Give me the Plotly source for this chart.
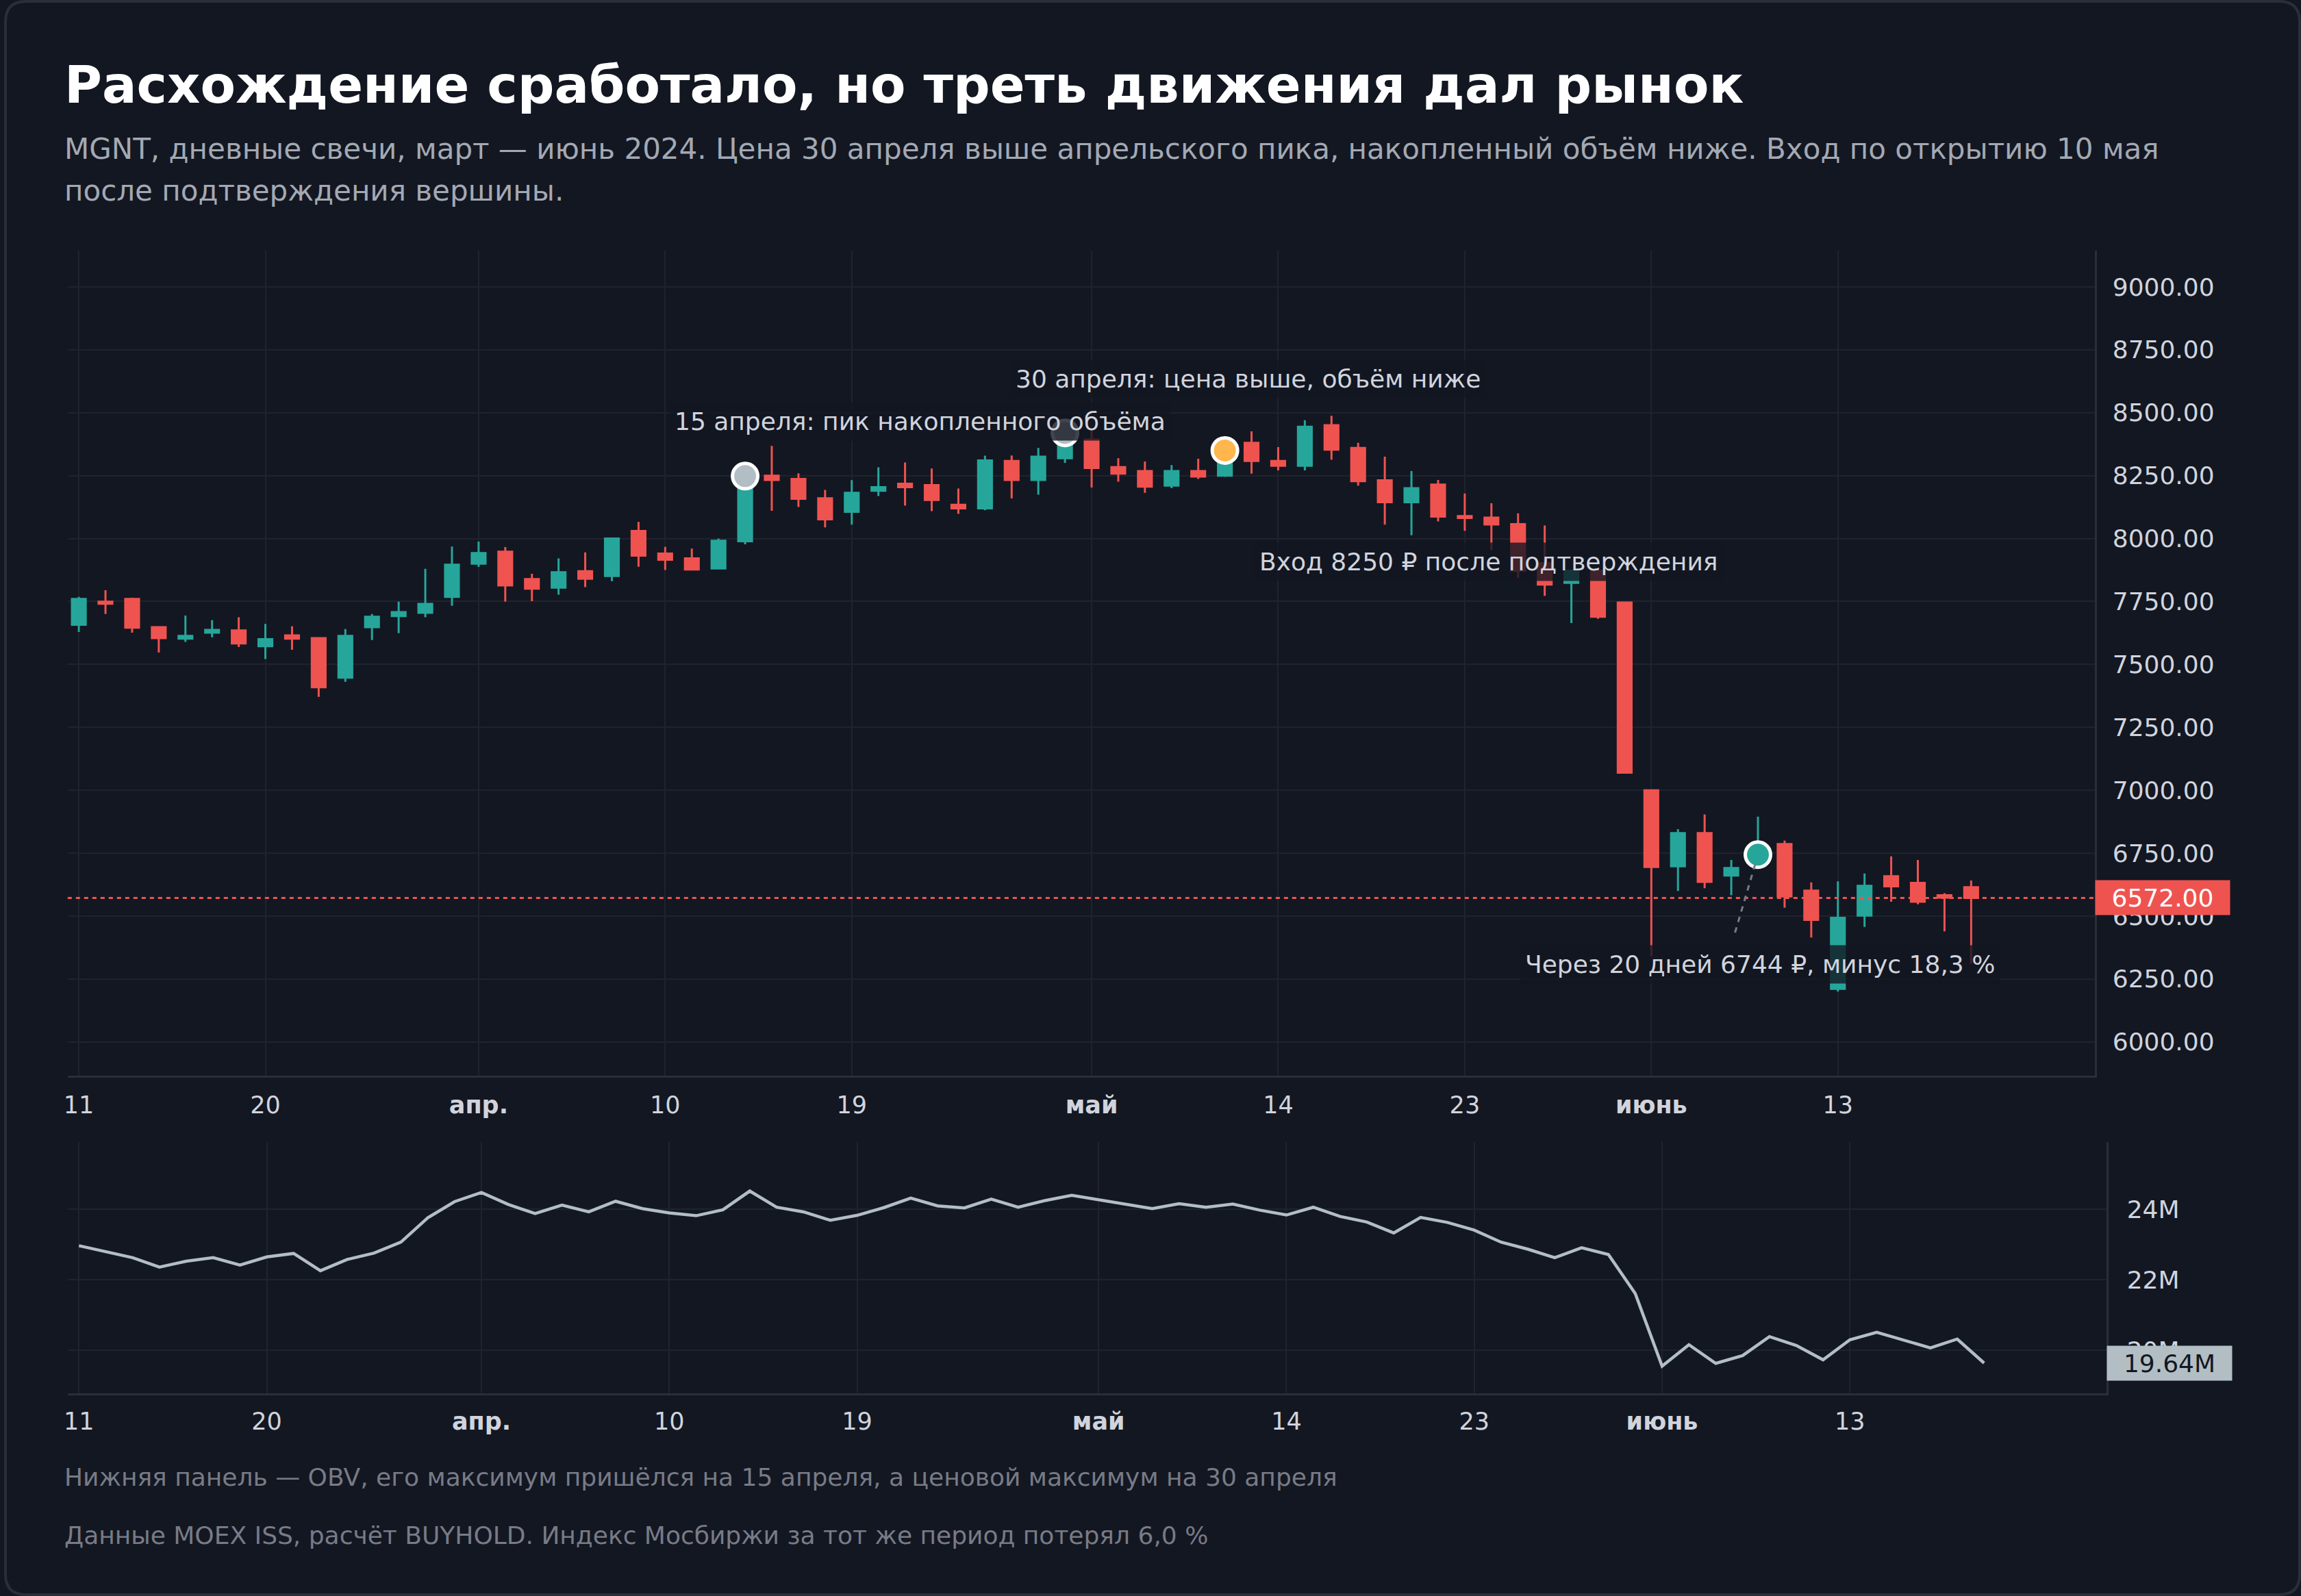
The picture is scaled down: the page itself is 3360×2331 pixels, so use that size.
import plotly.graph_objects as go

W, H = 3360, 2331

# ---- data ----
dates = [
    "2024-03-11", "2024-03-12", "2024-03-13", "2024-03-14", "2024-03-15",
    "2024-03-18", "2024-03-19", "2024-03-20", "2024-03-21", "2024-03-22",
    "2024-03-25", "2024-03-26", "2024-03-27", "2024-03-28", "2024-03-29",
    "2024-04-01", "2024-04-02", "2024-04-03", "2024-04-04", "2024-04-05",
    "2024-04-08", "2024-04-09", "2024-04-10", "2024-04-11", "2024-04-12",
    "2024-04-15", "2024-04-16", "2024-04-17", "2024-04-18", "2024-04-19",
    "2024-04-22", "2024-04-23", "2024-04-24", "2024-04-25", "2024-04-26",
    "2024-04-27", "2024-04-29", "2024-04-30", "2024-05-02", "2024-05-03",
    "2024-05-06", "2024-05-07", "2024-05-08", "2024-05-10", "2024-05-13",
    "2024-05-14", "2024-05-15", "2024-05-16", "2024-05-17", "2024-05-20",
    "2024-05-21", "2024-05-22", "2024-05-23", "2024-05-24", "2024-05-27",
    "2024-05-28", "2024-05-29", "2024-05-30", "2024-05-31", "2024-06-03",
    "2024-06-04", "2024-06-05", "2024-06-06", "2024-06-07", "2024-06-10",
    "2024-06-11", "2024-06-13", "2024-06-14", "2024-06-17", "2024-06-18",
    "2024-06-19", "2024-06-20",
]

open_ = [7657, 7749, 7760, 7648, 7602, 7626, 7635, 7572, 7615, 7604,
         7447, 7648, 7692, 7705, 7768, 7900, 7948, 7839, 7805, 7870,
         7851, 8030, 7940, 7921, 7881, 7989, 8250, 8237, 8160, 8106,
         8190, 8218, 8212, 8134, 8120, 8308, 8233, 8319, 8393, 8284,
         8268, 8210, 8268, 8250, 8380, 8308, 8289, 8450, 8360, 8231,
         8144, 8214, 8089, 8083, 8057, 7902, 7824, 7872, 7746, 7000,
         6698, 6830, 6661, 6700, 6786, 6601, 6211, 6502, 6658, 6632,
         6583, 6615]
high = [7768, 7795, 7765, 7650, 7694, 7676, 7687, 7661, 7651, 7608,
        7640, 7700, 7749, 7880, 7968, 7988, 7966, 7860, 7921, 7945,
        8002, 8066, 7967, 7960, 8000, 8255, 8368, 8259, 8193, 8232,
        8283, 8302, 8278, 8199, 8329, 8330, 8360, 8425, 8436, 8319,
        8306, 8292, 8317, 8360, 8426, 8363, 8470, 8488, 8380, 8325,
        8268, 8233, 8179, 8140, 8100, 8052, 7875, 7875, 7748, 7002,
        6845, 6904, 6723, 6895, 6800, 6634, 6638, 6669, 6737, 6723,
        6591, 6641]
low = [7629, 7700, 7626, 7547, 7589, 7608, 7569, 7521, 7558, 7371,
       7431, 7597, 7624, 7687, 7733, 7887, 7749, 7751, 7777, 7807,
       7831, 7888, 7875, 7874, 7879, 7977, 8110, 8125, 8044, 8055,
       8169, 8131, 8109, 8098, 8112, 8159, 8174, 8301, 8203, 8226,
       8182, 8200, 8237, 8245, 8258, 8271, 8271, 8313, 8210, 8055,
       8013, 8068, 8031, 7954, 7843, 7772, 7664, 7681, 7068, 6340,
       6600, 6611, 6583, 6690, 6533, 6415, 6200, 6457, 6557, 6547,
       6439, 6311]
close = [7760, 7741, 7646, 7604, 7613, 7637, 7583, 7600, 7602, 7409,
         7613, 7689, 7708, 7740, 7896, 7942, 7814, 7801, 7866, 7840,
         8000, 7932, 7916, 7877, 7991, 8248, 8233, 8158, 8076, 8182,
         8204, 8204, 8153, 8120, 8310, 8233, 8325, 8420, 8280, 8258,
         8206, 8268, 8246, 8350, 8308, 8289, 8444, 8353, 8228, 8144,
         8200, 8087, 8082, 8056, 7872, 7817, 7872, 7689, 7070, 6695,
         6830, 6636, 6691, 6744, 6578, 6485, 6493, 6620, 6618, 6557,
         6573, 6572]

obv_m = [22.97, 22.80, 22.63, 22.36, 22.53, 22.63, 22.42, 22.65, 22.75, 22.26,
         22.58, 22.76, 23.07, 23.76, 24.22, 24.48, 24.14, 23.88, 24.12, 23.93,
         24.23, 24.02, 23.90, 23.82, 23.99, 24.52, 24.06, 23.93, 23.69, 23.83,
         24.05, 24.32, 24.10, 24.04, 24.29, 24.06, 24.25, 24.40, 24.28, 24.14,
         24.02, 24.16, 24.06, 24.15, 23.98, 23.84, 24.06, 23.80, 23.64, 23.33,
         23.77, 23.63, 23.41, 23.07, 22.87, 22.63, 22.91, 22.72, 21.61, 19.55,
         20.16, 19.63, 19.85, 20.39, 20.14, 19.73, 20.30, 20.51, 20.30, 20.07,
         20.32, 19.64]
obv = [v * 1e6 for v in obv_m]

tick_dates = ["2024-03-11", "2024-03-20", "2024-04-01", "2024-04-10", "2024-04-19",
              "2024-05-02", "2024-05-14", "2024-05-23", "2024-06-03", "2024-06-13"]
tick_text = ["11", "20", "<b>апр.</b>", "10", "19", "<b>май</b>", "14", "23",
             "<b>июнь</b>", "13"]

price_ticks = list(range(6000, 9001, 250))
obv_ticks = [20e6, 22e6, 24e6]
obv_tick_text = ["20M", "22M", "24M"]

marker_dates = ["2024-04-15", "2024-04-30", "2024-05-10", "2024-06-07"]
marker_prices = [8248, 8420, 8350, 6744]
marker_colors = ["#b2bec3", "#b2bec3", "#ffb74d", "#26a69a"]
marker_labels = [
    "15 апреля: пик накопленного объёма",
    "30 апреля: цена выше, объём ниже",
    "Вход 8250 ₽ после подтверждения",
    "Через 20 дней 6744 ₽, минус 18,3 %",
]

title = "Расхождение сработало, но треть движения дал рынок"
subtitle = [
    "MGNT, дневные свечи, март — июнь 2024. Цена 30 апреля выше апрельского пика, "
    "накопленный объём ниже. Вход по открытию 10 мая",
    "после подтверждения вершины.",
]
footer = [
    "Нижняя панель — OBV, его максимум пришёлся на 15 апреля, а ценовой максимум на 30 апреля",
    "Данные MOEX ISS, расчёт BUYHOLD. Индекс Мосбиржи за тот же период потерял 6,0 %",
]

# ---- style ----
BG = "#131722"
GRID = "#1f232e"
BORDER = "#2a2e39"
TXT = "#d1d4dc"
UP = "#26a69a"
DOWN = "#ef5350"
FONT = "DejaVu Sans"


def fx(px):
    return px / W


def fy(py):
    return 1 - py / H


fig = go.Figure()

fig.add_trace(go.Candlestick(
    x=dates, open=open_, high=high, low=low, close=close,
    increasing=dict(line=dict(color=UP, width=3), fillcolor=UP),
    decreasing=dict(line=dict(color=DOWN, width=3), fillcolor=DOWN),
    xaxis="x", yaxis="y", hoverinfo="skip", showlegend=False,
))

fig.add_trace(go.Scatter(
    x=marker_dates, y=marker_prices, mode="markers",
    marker=dict(size=37, color=marker_colors, line=dict(color="white", width=5)),
    xaxis="x", yaxis="y", hoverinfo="skip", showlegend=False,
))

fig.add_trace(go.Scatter(
    x=dates, y=obv, mode="lines", line=dict(color="#b2bec3", width=4.5),
    xaxis="x2", yaxis="y2", hoverinfo="skip", showlegend=False,
))

xcommon = dict(
    type="category", showgrid=True, gridcolor=GRID, gridwidth=2,
    tickmode="array", tickvals=tick_dates, ticktext=tick_text,
    tickfont=dict(family=FONT, size=35, color=TXT),
    showline=True, linecolor=BORDER, linewidth=3, ticks="",
    zeroline=False, fixedrange=True,
)
ycommon = dict(
    side="right", showgrid=True, gridcolor=GRID, gridwidth=2,
    tickfont=dict(family=FONT, size=36, color=TXT),
    showline=True, linecolor=BORDER, linewidth=3, ticks="",
    zeroline=False,
)

fig.update_layout(
    width=W, height=H, autosize=False,
    margin=dict(l=0, r=0, t=0, b=0),
    paper_bgcolor=BG, plot_bgcolor=BG,
    font=dict(family=FONT, color=TXT),
    boxgap=0.26,
    showlegend=False,
    xaxis=dict(xcommon, domain=[fx(93), fx(3058)], range=[-0.418, 75.63],
               anchor="y", rangeslider=dict(visible=False), ticklabelstandoff=10),
    yaxis=dict(ycommon, domain=[fy(1571), fy(366)], range=[5866, 9144],
               tickmode="array", tickvals=price_ticks,
               ticktext=[f"{v:.2f}" for v in price_ticks], anchor="x",
               ticklabelstandoff=16),
    xaxis2=dict(xcommon, domain=[fx(93), fx(3075)], range=[-0.42, 75.55],
                anchor="y2", ticklabelstandoff=8),
    yaxis2=dict(ycommon, domain=[fy(2035), fy(1668)], range=[18.78e6, 25.91e6],
                tickmode="array", tickvals=obv_ticks, ticktext=obv_tick_text,
                anchor="x2", ticklabelstandoff=20),
)

shapes = []
# last price dotted line
shapes.append(dict(type="line", xref="x domain", yref="y", x0=0, x1=1,
                   y0=close[-1], y1=close[-1],
                   line=dict(color=DOWN, width=3, dash="6px,6px")))
# dashed connector from the exit marker to its label
shapes.append(dict(type="line", xref="x", yref="y",
                   xsizemode="pixel", ysizemode="pixel",
                   xanchor=marker_dates[3], yanchor=marker_prices[3],
                   x0=-4, y0=-14, x1=-35, y1=-119,
                   line=dict(color="#787b86", width=3, dash="8px,8px")))
# card border
r = 30
path = (f"M {fx(2 + r)},{fy(2)} L {fx(W - 2 - r)},{fy(2)} "
        f"Q {fx(W - 2)},{fy(2)} {fx(W - 2)},{fy(2 + r)} "
        f"L {fx(W - 2)},{fy(H - 2 - r)} Q {fx(W - 2)},{fy(H - 2)} {fx(W - 2 - r)},{fy(H - 2)} "
        f"L {fx(2 + r)},{fy(H - 2)} Q {fx(2)},{fy(H - 2)} {fx(2)},{fy(H - 2 - r)} "
        f"L {fx(2)},{fy(2 + r)} Q {fx(2)},{fy(2)} {fx(2 + r)},{fy(2)} Z")
shapes.append(dict(type="path", xref="paper", yref="paper", path=path,
                   line=dict(color=BORDER, width=4)))
fig.update_layout(shapes=shapes)

ann = []
ann.append(dict(text=f"<b>{title}</b>", xref="paper", yref="paper",
                x=fx(86), y=fy(124), xanchor="left", yanchor="middle",
                showarrow=False, font=dict(family=FONT, size=75, color="#ffffff")))
for i, line in enumerate(subtitle):
    ann.append(dict(text=line, xref="paper", yref="paper",
                    x=fx(86), y=fy(218 + 60 * i), xanchor="left", yanchor="middle",
                    showarrow=False, font=dict(family=FONT, size=42, color="#a3a9b3")))
for i, line in enumerate(footer):
    ann.append(dict(text=line, xref="paper", yref="paper",
                    x=fx(86), y=fy(2157 + 85 * i), xanchor="left", yanchor="middle",
                    showarrow=False, font=dict(family=FONT, size=36, color="#787b86")))

# marker labels: offsets in pixels from each marker
label_shift = [(-111, 80), (-80, 79), (42, -163), (-348, -160)]
for d, p, t, (sx, sy) in zip(marker_dates, marker_prices, marker_labels, label_shift):
    ann.append(dict(text=t, xref="x", yref="y", x=d, y=p,
                    xanchor="left", yanchor="middle", xshift=sx, yshift=sy,
                    showarrow=False, bgcolor="rgba(19,23,34,0.8)", borderpad=7,
                    font=dict(family=FONT, size=36, color=TXT)))

# price-scale badges
ann.append(dict(text=f"{close[-1]:.2f}", xref="paper", yref="y",
                x=fx(3058), y=close[-1], xanchor="left", yanchor="middle",
                showarrow=False, bgcolor=DOWN, width=192, height=46, borderpad=2,
                align="center", font=dict(family=FONT, size=36, color="#ffffff")))
ann.append(dict(text=f"{obv[-1] / 1e6:.2f}M", xref="paper", yref="y2",
                x=fx(3075), y=obv[-1], xanchor="left", yanchor="middle",
                showarrow=False, bgcolor="#b2bec3", width=178, height=46, borderpad=2,
                align="center", font=dict(family=FONT, size=36, color="#131722")))
fig.update_layout(annotations=ann)

fig.write_html("out.html", config={"displayModeBar": False},
               post_script="document.body.style.margin='0';")
